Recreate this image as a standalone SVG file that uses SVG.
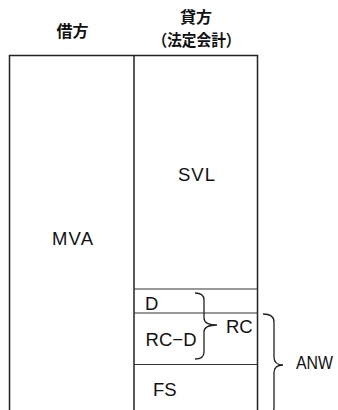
<svg xmlns="http://www.w3.org/2000/svg" width="338" height="410" viewBox="0 0 338 410">
<style>
.t{font-family:"Liberation Sans","Noto Sans CJK JP",sans-serif;fill:#111}
.lbl{font-size:18.5px}
.hd{font-size:16px;font-weight:bold;text-anchor:middle;font-family:"Noto Sans CJK JP","Liberation Sans",sans-serif}
.ln{stroke:#222;stroke-width:1.5;fill:none}
.thin{stroke:#333;stroke-width:1;fill:none}
.br{stroke:#222;stroke-width:1.3;fill:none}
</style>
<rect width="338" height="410" fill="#fff"/>
<g id="headers">
<text class="t hd" x="72.5" y="37">借方</text>
<text class="t hd" x="196" y="23">貸方</text>
<text class="t hd" x="196.5" y="46" textLength="88" lengthAdjust="spacingAndGlyphs">（法定会計）</text>
</g>
<g id="frame">
<path class="ln" d="M9.5,410 V55.5 H257.5 V410"/>
<path class="ln" d="M134,55.5 V410"/>
<path class="thin" d="M134,289 H257.5 M134,313 H257.5 M134,364.5 H257.5"/>
</g>
<g id="MVA"><text class="t lbl" x="52" y="245" textLength="41">MVA</text></g>
<g id="SVL"><text class="t lbl" x="178" y="181" textLength="37">SVL</text></g>
<g id="D"><text class="t lbl" x="145" y="310">D</text></g>
<g id="RC-D"><text class="t lbl" x="145.5" y="346" textLength="51">RC−D</text></g>
<g id="FS"><text class="t lbl" x="153" y="396">FS</text></g>
<g id="RC"><text class="t lbl" x="226" y="333">RC</text></g>
<g id="ANW"><text class="t lbl" x="296" y="369" textLength="37" lengthAdjust="spacingAndGlyphs">ANW</text></g>
<g id="connectors">
<path class="br" d="M195,293 Q204,293 204,300 V318 Q204,325 217,325 Q204,325 204,332 V352 Q204,359 195,359"/>
<path class="br" d="M263,314 Q274,314 274,322 V357 Q274,365 283,365 Q274,365 274,373 V408 Q274,416 263,416"/>
</g>
</svg>
